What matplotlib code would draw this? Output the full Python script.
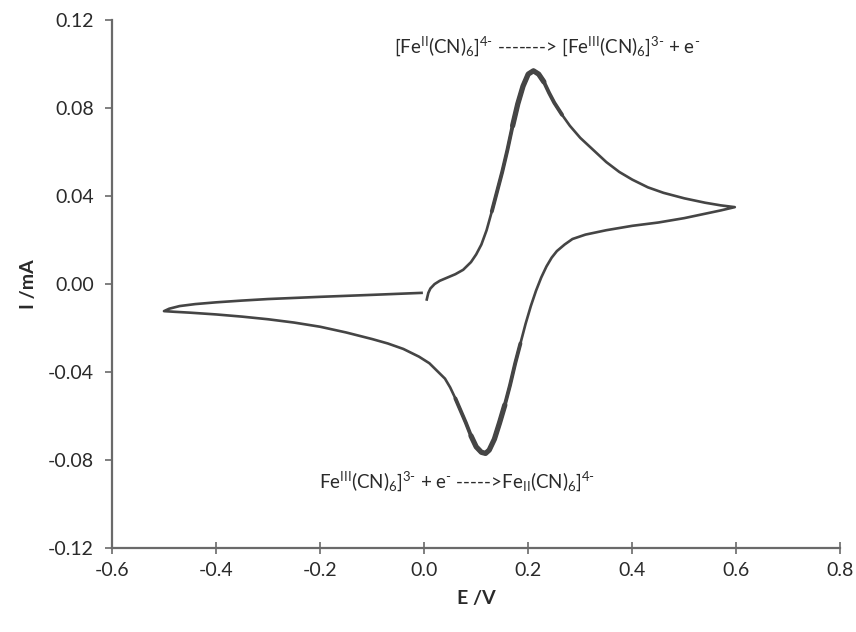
import matplotlib
matplotlib.use('Agg')
import matplotlib.pyplot as plt
import numpy as np

plt.rcParams['font.family'] = ['Lato', 'DejaVu Sans']
plt.rcParams['mathtext.fontset'] = 'custom'
plt.rcParams['mathtext.rm'] = 'Lato'
plt.rcParams['mathtext.it'] = 'Lato'

# anodic (forward) scan, 0.0 -> 0.6 V
E_fwd = [0.005, 0.008, 0.012, 0.02, 0.03, 0.045, 0.06, 0.075, 0.09, 0.1, 0.11, 0.12,
         0.13, 0.14, 0.15, 0.16, 0.17, 0.18, 0.19, 0.2, 0.21, 0.22, 0.23, 0.24, 0.25,
         0.265, 0.28, 0.3, 0.325, 0.35, 0.375, 0.4, 0.43, 0.46, 0.5, 0.54, 0.57, 0.597]
I_fwd = [-0.007, -0.004, -0.002, 0.0, 0.0015, 0.003, 0.0045, 0.0065, 0.010, 0.0135, 0.018, 0.0245,
         0.033, 0.042, 0.051, 0.061, 0.072, 0.082, 0.090, 0.0955, 0.097, 0.0955, 0.092, 0.087, 0.0825,
         0.077, 0.072, 0.0665, 0.061, 0.0555, 0.051, 0.0475, 0.044, 0.0415, 0.039, 0.037, 0.0358, 0.035]

# cathodic (reverse) scan, 0.6 -> -0.5 V
E_rev = [0.597, 0.57, 0.54, 0.5, 0.45, 0.4, 0.35, 0.31, 0.285, 0.27, 0.255, 0.245,
         0.235, 0.225, 0.215, 0.205, 0.195, 0.185, 0.175, 0.165, 0.155, 0.145, 0.135,
         0.125, 0.118, 0.11, 0.1, 0.09, 0.08, 0.07, 0.06, 0.05, 0.04, 0.025, 0.01,
         -0.01, -0.04, -0.07, -0.1, -0.15, -0.2, -0.25, -0.3, -0.35, -0.4, -0.45, -0.48, -0.5]
I_rev = [0.035, 0.0335, 0.032, 0.030, 0.028, 0.0265, 0.0245, 0.0225, 0.0205, 0.018, 0.015, 0.012,
         0.008, 0.003, -0.003, -0.010, -0.018, -0.027, -0.036, -0.046, -0.055, -0.063, -0.0705,
         -0.0755, -0.077, -0.0765, -0.074, -0.069, -0.063, -0.0575, -0.052, -0.047, -0.043, -0.0395, -0.036,
         -0.033, -0.0295, -0.027, -0.025, -0.022, -0.0194, -0.0175, -0.016, -0.0148, -0.0138, -0.013, -0.0126, -0.0123]

# return scan, -0.5 -> 0.0 V
E_ret = [-0.5, -0.49, -0.47, -0.44, -0.4, -0.35, -0.3, -0.2, -0.1, -0.005]
I_ret = [-0.0123, -0.0112, -0.0100, -0.0091, -0.0083, -0.0075, -0.0068, -0.0058, -0.0049, -0.004]

xticks = [-0.6, -0.4, -0.2, 0.0, 0.2, 0.4, 0.6, 0.8]
yticks = [-0.12, -0.08, -0.04, 0.00, 0.04, 0.08, 0.12]

fig = plt.figure(figsize=(8.56, 6.32), dpi=100)
ax = fig.add_axes([0.1308, 0.133, 0.851, 0.835])

E = E_fwd + E_rev[1:] + E_ret[1:]
I = I_fwd + I_rev[1:] + I_ret[1:]
ax.plot(E, I, color='#454545', lw=1.9, solid_joinstyle='round')

# noisy, thicker trace around the two peaks
ax.plot(E_fwd[12:26], I_fwd[12:26], color='#454545', lw=2.8, solid_capstyle='round')
ax.plot(E_fwd[16:23], I_fwd[16:23], color='#454545', lw=3.8, solid_capstyle='round')
ax.plot(E_rev[17:31], I_rev[17:31], color='#454545', lw=2.8, solid_capstyle='round')
ax.plot(E_rev[20:28], I_rev[20:28], color='#454545', lw=3.8, solid_capstyle='round')

ax.set_xlim(-0.6, 0.8)
ax.set_ylim(-0.12, 0.12)
ax.set_xticks(xticks)
ax.set_xticklabels(['%.1f' % v for v in xticks])
ax.set_yticks(yticks)
ax.set_yticklabels(['%.2f' % v for v in yticks])
for s in ['top', 'right']:
    ax.spines[s].set_visible(False)
for s in ['left', 'bottom']:
    ax.spines[s].set_color('#6a6a6a')
    ax.spines[s].set_linewidth(1.6)
ax.tick_params(axis='x', direction='inout', length=8, width=1.2, color='#6a6a6a',
               labelsize=14, pad=6)
ax.tick_params(axis='y', direction='out', length=5, width=1.2, color='#6a6a6a',
               labelsize=14, pad=8)
ax.tick_params(axis='both', labelcolor='#2a2a2a')

ax.set_xlabel('E /V', fontsize=14, fontweight='bold', color='#2a2a2a', labelpad=8)
ax.set_ylabel('I /mA', fontsize=14, fontweight='bold', color='#2a2a2a', labelpad=8)

ax.text(0.236, 0.108,
        r'[Fe$^{\mathrm{II}}$(CN)$_{6}$]$^{4\text{-}}$ -------> [Fe$^{\mathrm{III}}$(CN)$_{6}$]$^{3\text{-}}$ + e$^{\text{-}}$',
        ha='center', va='center', fontsize=13.5, color='#2a2a2a')
ax.text(0.064, -0.0895,
        r'Fe$^{\mathrm{III}}$(CN)$_{6}$]$^{3\text{-}}$ + e$^{\text{-}}$ ----->Fe$_{\mathrm{II}}$(CN)$_{6}$]$^{4\text{-}}$',
        ha='center', va='center', fontsize=13.5, color='#2a2a2a')

fig.savefig('out.png', dpi=100)
